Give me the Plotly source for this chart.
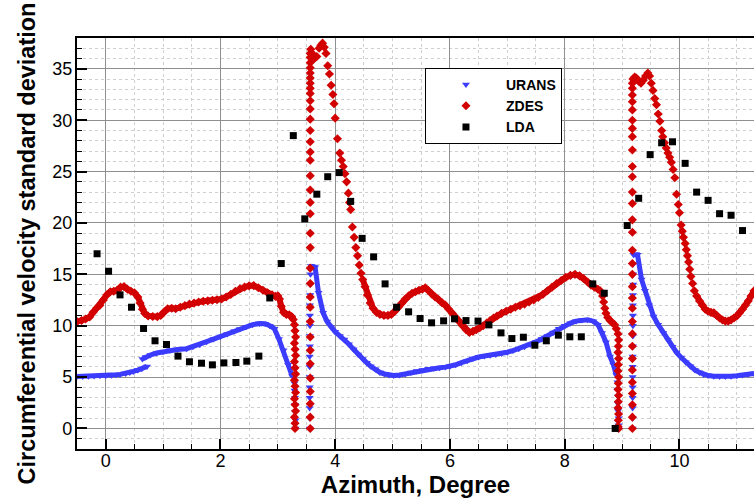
import plotly.graph_objects as go

# ---------------- data ----------------
# URANS (blue triangles)
URANS_A = [(-0.5, 5.05), (-0.4, 5.06), (-0.3, 5.08), (-0.2, 5.1), (-0.1, 5.12), (0.0, 5.14),
           (0.1, 5.18), (0.18, 5.22), (0.25, 5.26), (0.35, 5.35), (0.42, 5.45), (0.48, 5.55),
           (0.56, 5.68), (0.63, 5.8), (0.72, 6.04)]
URANS_B = [(0.64, 6.75), (0.7, 6.95), (0.78, 7.15), (0.89, 7.34), (1.0, 7.47), (1.12, 7.6),
           (1.25, 7.68), (1.41, 7.76), (1.52, 7.95), (1.64, 8.15), (1.76, 8.45), (1.88, 8.7),
           (2.0, 8.96), (2.12, 9.2), (2.24, 9.45), (2.34, 9.68), (2.45, 9.9), (2.56, 10.1),
           (2.68, 10.22), (2.78, 10.2), (2.86, 10.0), (2.94, 9.7), (3.02, 8.7), (3.1, 7.6),
           (3.18, 6.2), (3.25, 5.1)]
URANS_DROP1 = [(3.29, 4.4), (3.29, 3.7), (3.3, 3.0), (3.3, 2.3), (3.3, 1.6), (3.31, 0.8), (3.31, 0.0)]
URANS_RISE1 = [(3.555, 0.0), (3.555, 1.0), (3.555, 2.0), (3.555, 3.0), (3.555, 4.0), (3.555, 5.0),
               (3.555, 6.0), (3.555, 7.0), (3.56, 8.0), (3.56, 9.0), (3.56, 10.0), (3.56, 11.0),
               (3.56, 12.0), (3.565, 13.0), (3.565, 14.0), (3.57, 15.0)]
URANS_C = [(3.58, 15.8), (3.65, 15.7), (3.71, 13.2), (3.79, 11.25), (3.86, 10.4), (3.93, 9.85),
           (4.0, 9.4), (4.08, 9.0), (4.16, 8.65), (4.24, 8.2), (4.32, 7.7), (4.4, 7.2),
           (4.48, 6.75), (4.55, 6.4), (4.62, 6.05), (4.7, 5.75), (4.78, 5.45), (4.86, 5.3),
           (4.94, 5.2), (5.02, 5.15), (5.12, 5.2), (5.22, 5.3), (5.32, 5.45), (5.42, 5.6),
           (5.52, 5.7), (5.62, 5.8), (5.72, 5.85), (5.82, 5.9), (5.92, 5.97), (6.0, 6.05),
           (6.1, 6.2), (6.2, 6.4), (6.3, 6.6), (6.4, 6.8), (6.5, 6.95), (6.6, 7.05),
           (6.7, 7.12), (6.8, 7.2), (6.9, 7.3), (7.0, 7.42), (7.1, 7.58), (7.2, 7.76),
           (7.3, 7.95), (7.4, 8.17), (7.5, 8.42), (7.6, 8.7), (7.7, 9.0), (7.8, 9.35),
           (7.9, 9.7), (8.0, 10.0), (8.1, 10.25), (8.2, 10.45), (8.3, 10.55), (8.4, 10.58),
           (8.5, 10.44), (8.58, 10.1), (8.65, 9.3), (8.72, 8.4), (8.79, 7.0), (8.85, 6.2),
           (8.9, 5.2)]
URANS_DROP2 = [(8.92, 4.5), (8.92, 3.8), (8.93, 3.1), (8.93, 2.4), (8.93, 1.7), (8.94, 1.0),
               (8.94, 0.3), (8.94, 0.0)]
URANS_RISE2 = [(9.185, 0.0), (9.185, 1.0), (9.185, 2.0), (9.185, 3.0), (9.185, 4.0), (9.185, 5.0),
               (9.185, 6.0), (9.185, 7.0), (9.19, 8.0), (9.19, 9.0), (9.19, 10.0), (9.19, 11.0),
               (9.19, 12.0), (9.19, 13.0), (9.195, 14.0), (9.195, 15.0), (9.195, 16.0)]
URANS_D = [(9.2, 16.9), (9.27, 16.9), (9.34, 14.5), (9.4, 13.4), (9.47, 12.0), (9.55, 10.9),
           (9.63, 10.1), (9.72, 9.3), (9.8, 8.6), (9.88, 7.95), (9.95, 7.4), (10.03, 6.9),
           (10.11, 6.45), (10.19, 6.05), (10.27, 5.7), (10.35, 5.45), (10.42, 5.25), (10.5, 5.15),
           (10.6, 5.08), (10.7, 5.05), (10.8, 5.05), (10.9, 5.08), (11.0, 5.12), (11.1, 5.2),
           (11.2, 5.27), (11.3, 5.35)]

# ZDES (red diamonds)
ZDES_A = [(-0.5, 10.4), (-0.42, 10.5), (-0.35, 10.65), (-0.28, 10.85), (-0.22, 11.3), (-0.16, 11.7),
          (-0.1, 12.0), (-0.04, 12.5), (0.02, 13.0), (0.08, 13.3), (0.14, 13.35), (0.2, 13.45),
          (0.26, 13.75), (0.32, 13.8), (0.38, 13.55), (0.44, 13.35), (0.5, 13.2), (0.56, 12.8),
          (0.6, 12.2), (0.64, 11.6), (0.68, 11.2), (0.74, 10.95), (0.82, 10.9), (0.9, 10.88),
          (0.96, 11.0), (1.02, 11.35), (1.08, 11.65), (1.15, 11.7), (1.22, 11.65), (1.3, 11.8),
          (1.38, 11.95), (1.46, 12.1), (1.54, 12.2), (1.62, 12.3), (1.7, 12.38), (1.78, 12.42),
          (1.86, 12.48), (1.94, 12.52), (2.02, 12.6), (2.1, 12.8), (2.18, 13.05), (2.26, 13.35),
          (2.34, 13.6), (2.42, 13.75), (2.5, 13.88), (2.58, 13.9), (2.66, 13.7), (2.74, 13.45),
          (2.82, 13.2), (2.9, 13.0), (2.96, 12.85), (3.0, 12.9), (3.03, 12.6), (3.06, 11.9),
          (3.1, 11.3), (3.15, 11.1), (3.2, 11.05), (3.24, 10.9), (3.27, 10.6)]
ZDES_DROP1 = [(3.29, 10.1), (3.3, 9.5), (3.31, 8.9), (3.29, 8.3), (3.3, 7.7), (3.31, 7.1),
              (3.29, 6.5), (3.3, 5.9), (3.31, 5.3), (3.29, 4.7), (3.3, 4.1), (3.31, 3.5),
              (3.29, 2.9), (3.3, 2.3), (3.31, 1.7), (3.29, 1.1), (3.3, 0.5), (3.3, 0.0)]
ZDES_RISE1 = [(3.565, 0.0), (3.565, 1.1), (3.565, 2.4), (3.565, 3.6), (3.565, 4.9), (3.565, 6.3),
              (3.565, 7.6), (3.565, 8.9), (3.565, 10.4), (3.565, 11.8), (3.565, 12.8), (3.565, 14.1),
              (3.565, 15.6), (3.565, 17.6), (3.565, 19.0), (3.565, 20.9), (3.565, 22.0), (3.565, 23.2),
              (3.565, 24.6), (3.565, 26.1), (3.565, 26.9), (3.565, 27.9), (3.565, 29.0), (3.565, 30.1),
              (3.565, 31.1), (3.565, 31.9), (3.565, 32.6), (3.565, 33.1), (3.565, 33.6), (3.565, 34.1),
              (3.565, 34.6), (3.565, 35.1), (3.565, 35.6), (3.565, 36.1), (3.565, 36.5)]
ZDES_PEAK1 = [(3.575, 36.9), (3.6, 36.5), (3.64, 36.0), (3.68, 36.2), (3.72, 37.0), (3.75, 37.3),
              (3.78, 37.5), (3.81, 37.1), (3.84, 36.5), (3.87, 35.3), (3.9, 34.5), (3.93, 33.4),
              (3.96, 32.5), (3.98, 31.6), (4.0, 30.2), (4.04, 28.2), (4.08, 26.8), (4.11, 26.1),
              (4.14, 25.5), (4.17, 24.8), (4.2, 24.0), (4.23, 22.9), (4.25, 22.0), (4.27, 21.3),
              (4.3, 19.6), (4.33, 18.6), (4.36, 17.6), (4.39, 16.8), (4.42, 15.9), (4.45, 15.1)]
ZDES_B = [(4.48, 14.5), (4.52, 13.8), (4.56, 13.0), (4.61, 12.2), (4.66, 11.7), (4.72, 11.3),
          (4.78, 11.1), (4.85, 11.0), (4.92, 11.0), (4.98, 11.1), (5.04, 11.4), (5.1, 11.8),
          (5.16, 12.2), (5.22, 12.6), (5.28, 12.9), (5.34, 13.15), (5.4, 13.3), (5.46, 13.45),
          (5.52, 13.55), (5.57, 13.7), (5.62, 13.45), (5.68, 13.1), (5.74, 12.8), (5.8, 12.55),
          (5.86, 12.25), (5.92, 12.0), (5.98, 11.6), (6.04, 11.2), (6.1, 10.8), (6.16, 10.4),
          (6.22, 10.0), (6.28, 9.6), (6.34, 9.35), (6.4, 9.45), (6.46, 9.6), (6.52, 9.8),
          (6.58, 10.0), (6.64, 10.25), (6.7, 10.5), (6.76, 10.75), (6.82, 10.95), (6.9, 11.2),
          (6.98, 11.4), (7.06, 11.6), (7.14, 11.8), (7.22, 11.95), (7.3, 12.1), (7.38, 12.3),
          (7.46, 12.5), (7.54, 12.75), (7.62, 13.05), (7.7, 13.4), (7.78, 13.75), (7.86, 14.1),
          (7.94, 14.4), (8.02, 14.7), (8.1, 14.9), (8.18, 15.0), (8.26, 14.85), (8.33, 14.6),
          (8.4, 14.25), (8.46, 13.95), (8.52, 13.75), (8.58, 13.55), (8.62, 13.4)]
ZDES_FALL2 = [(8.66, 12.9), (8.68, 12.3), (8.7, 11.7), (8.72, 11.2), (8.75, 10.8), (8.79, 10.5),
              (8.83, 10.3), (8.87, 10.1), (8.9, 9.7)]
ZDES_DROP2 = [(8.93, 9.2), (8.94, 8.6), (8.935, 8.0), (8.93, 7.4), (8.94, 6.8), (8.935, 6.2),
              (8.93, 5.6), (8.94, 5.0), (8.935, 4.4), (8.93, 3.8), (8.94, 3.2), (8.935, 2.6),
              (8.93, 2.0), (8.94, 1.4), (8.935, 0.8), (8.93, 0.2), (8.94, 0.0)]
ZDES_RISE2 = [(9.18, 0.0), (9.18, 1.1), (9.18, 2.3), (9.18, 3.4), (9.18, 4.5), (9.18, 5.7),
              (9.18, 6.8), (9.18, 8.0), (9.18, 9.2), (9.18, 10.4), (9.18, 11.7), (9.18, 12.7),
              (9.18, 13.8), (9.18, 15.0), (9.18, 16.05), (9.18, 17.35), (9.18, 19.1), (9.18, 20.3),
              (9.18, 21.9), (9.18, 23.0), (9.18, 24.5), (9.18, 25.5), (9.18, 27.1), (9.18, 28.4),
              (9.18, 29.2), (9.18, 30.0), (9.18, 31.0), (9.18, 31.8), (9.18, 32.45), (9.18, 33.1),
              (9.18, 33.6)]
ZDES_PEAK2 = [(9.19, 34.0), (9.22, 34.2), (9.25, 34.1), (9.29, 33.8), (9.33, 33.6), (9.37, 33.9),
              (9.41, 34.3), (9.45, 34.6), (9.48, 34.3), (9.51, 33.6), (9.54, 32.9), (9.57, 32.1),
              (9.6, 31.5), (9.63, 30.6), (9.66, 29.9), (9.69, 29.0), (9.71, 28.4), (9.74, 27.8),
              (9.77, 27.3), (9.8, 26.8), (9.83, 26.4), (9.86, 25.9), (9.89, 25.2), (9.92, 24.4),
              (9.95, 22.8), (9.98, 21.8), (10.0, 21.0), (10.03, 19.8), (10.05, 19.2), (10.07, 18.6),
              (10.1, 18.0), (10.12, 17.4), (10.14, 16.8), (10.16, 16.2), (10.18, 15.5), (10.2, 14.8),
              (10.23, 14.1), (10.26, 13.4)]
ZDES_C = [(10.3, 12.9), (10.35, 12.4), (10.4, 12.0), (10.45, 11.6), (10.5, 11.4), (10.55, 11.3),
          (10.6, 11.25), (10.65, 11.0), (10.7, 10.75), (10.75, 10.55), (10.8, 10.45), (10.85, 10.45),
          (10.9, 10.55), (10.95, 10.75), (11.0, 10.95), (11.05, 11.25), (11.1, 11.6), (11.15, 12.0),
          (11.2, 12.4), (11.25, 12.9), (11.3, 13.4)]

# LDA (black squares)
LDA_X = [-0.15, 0.05, 0.25, 0.45, 0.66, 0.86, 1.06, 1.26, 1.46, 1.67, 1.86, 2.06, 2.27, 2.46,
         2.67, 2.86, 3.06, 3.27, 3.47, 3.68, 3.87, 4.07, 4.27, 4.47, 4.67, 4.87, 5.07, 5.28,
         5.48, 5.68, 5.89, 6.08, 6.28, 6.49, 6.68, 6.89, 7.08, 7.28, 7.48, 7.68, 7.89, 8.09,
         8.29, 8.49, 8.69, 8.88, 9.09, 9.29, 9.49, 9.69, 9.88, 10.1, 10.3, 10.5, 10.7, 10.9, 11.1]
LDA_Y = [17.0, 15.3, 13.0, 11.8, 9.73, 8.53, 8.17, 7.04, 6.49, 6.35, 6.19, 6.38, 6.42, 6.55,
         7.04, 12.7, 16.05, 28.5, 20.4, 22.8, 24.5, 24.9, 22.1, 18.5, 16.7, 14.07, 11.8, 11.35,
         10.7, 10.28, 10.47, 10.67, 10.5, 10.45, 10.08, 9.3, 8.75, 8.88, 8.1, 8.53, 9.08, 8.92,
         8.92, 14.07, 13.16, 0.0, 19.75, 22.4, 26.65, 27.8, 27.9, 25.8, 23.0, 22.2, 20.9, 20.75, 19.26]

# ---------------- styles ----------------
BLUE = "#3c3cff"
RED = "#d20000"
FONT = "Liberation Sans, Arial, Helvetica, sans-serif"

def xs(seg):
    return [p[0] for p in seg]

def ys(seg):
    return [p[1] for p in seg]

def join_lines(segs):
    x, y = [], []
    for s in segs:
        x += xs(s) + [None]
        y += ys(s) + [None]
    return x, y

def join_points(segs):
    x, y = [], []
    for s in segs:
        x += xs(s)
        y += ys(s)
    return x, y

fig = go.Figure()

# URANS band (smooth parts) + all markers
ux, uy = join_lines([URANS_A, URANS_B, URANS_C, URANS_D])
fig.add_trace(go.Scatter(x=ux, y=uy, mode="lines", line=dict(color=BLUE, width=5),
                         showlegend=False, hoverinfo="skip", connectgaps=False))
ux, uy = join_points([URANS_A, URANS_B, URANS_DROP1, URANS_RISE1, URANS_C,
                      URANS_DROP2, URANS_RISE2, URANS_D])
fig.add_trace(go.Scatter(x=ux, y=uy, mode="markers", name="URANS",
                         marker=dict(symbol="triangle-down", size=7, color=BLUE)))

# ZDES band (smooth parts) + all markers
zx, zy = join_lines([ZDES_A, ZDES_B, ZDES_C])
fig.add_trace(go.Scatter(x=zx, y=zy, mode="lines", line=dict(color=RED, width=6),
                         showlegend=False, hoverinfo="skip", connectgaps=False))
zx, zy = join_points([ZDES_A, ZDES_DROP1, ZDES_RISE1, ZDES_PEAK1, ZDES_B, ZDES_FALL2,
                      ZDES_DROP2, ZDES_RISE2, ZDES_PEAK2, ZDES_C])
fig.add_trace(go.Scatter(x=zx, y=zy, mode="markers", name="ZDES",
                         marker=dict(symbol="diamond", size=7, color=RED)))

fig.add_trace(go.Scatter(x=LDA_X, y=LDA_Y, mode="markers", name="LDA",
                         marker=dict(symbol="square", size=7, color="black")))

axis_common = dict(
    showline=True, linewidth=2, linecolor="black",
    ticks="inside", ticklen=10, tickwidth=2, tickcolor="black",
    showgrid=True, gridcolor="#8f8f8f", gridwidth=1,
    zeroline=False,
    tickfont=dict(family=FONT, size=18, color="black"),
)

fig.update_xaxes(
    range=[-0.5, 11.3], tick0=0, dtick=2, mirror=True,
    ticklabelstandoff=-6,
    title=dict(text="Azimuth, Degree", font=dict(family=FONT, size=24, color="black", weight="bold"),
               standoff=0),
    minor=dict(tick0=0, dtick=0.5, ticks="inside", ticklen=5, tickwidth=1, tickcolor="black",
               showgrid=True, gridcolor="#cfcfcf", griddash="dot", gridwidth=1),
    **axis_common,
)
fig.update_yaxes(
    range=[-2, 38], tick0=0, dtick=5, mirror=False,
    ticklabelstandoff=-11, ticksuffix="\u2007",
    title=dict(text="Circumferential velocity standard deviation",
               font=dict(family=FONT, size=23.5, color="black", weight="bold"), standoff=10),
    minor=dict(tick0=0, dtick=1, ticks="inside", ticklen=5, tickwidth=1, tickcolor="black",
               showgrid=True, gridcolor="#cfcfcf", griddash="dot", gridwidth=1),
    **axis_common,
)

fig.update_layout(
    width=754, height=499, autosize=False,
    margin=dict(l=77, r=0, t=38, b=50, pad=0),
    paper_bgcolor="white", plot_bgcolor="white",
    font=dict(family=FONT, color="black"),
    legend=dict(x=0.514, y=0.927, xanchor="left", yanchor="top",
                bordercolor="black", borderwidth=1, bgcolor="white",
                font=dict(family=FONT, size=14, color="black", weight="bold"),
                itemwidth=70, tracegroupgap=0),
)

fig.write_html("out.html")
